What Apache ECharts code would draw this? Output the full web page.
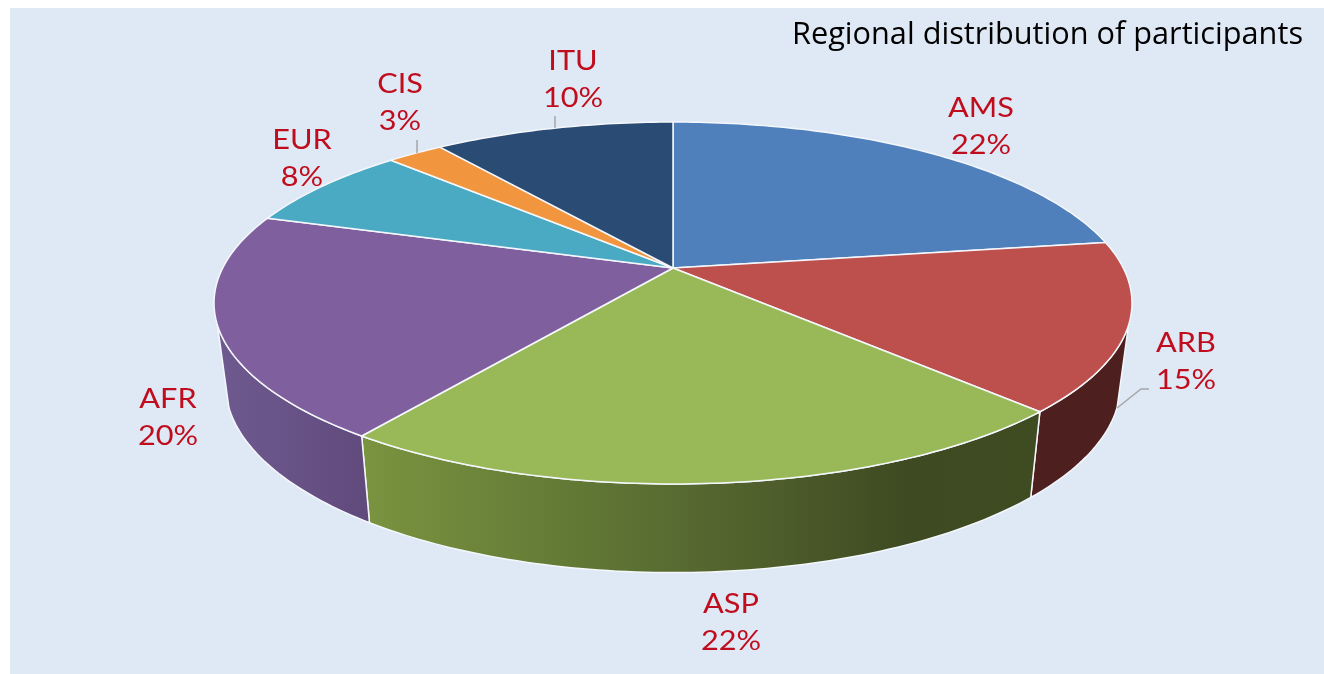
<!DOCTYPE html>
<html>
<head>
<meta charset="utf-8">
<title>Regional distribution of participants</title>
<script src="https://cdn.jsdelivr.net/npm/echarts@6/dist/echarts.min.js"></script>
<style>
  html, body { margin: 0; padding: 0; background: #ffffff; }
  #chart { width: 1324px; height: 674px; }
</style>
</head>
<body>
<div id="chart"></div>
<script>
// Data
const categories = ['AMS', 'ARB', 'ASP', 'AFR', 'EUR', 'CIS', 'ITU'];
// share of the disc each slice really takes up in the drawing
const sliceShares = [22.6, 15, 22.3, 20, 7.5, 2.4, 10.2];
// what the printed labels say (they do not all agree with the slice sizes)
const printedPercents = [22, 15, 22, 20, 8, 3, 10];
const topColors = ['#4f80bc', '#bd4f4d', '#99b958', '#7f5f9e', '#4aaac4', '#f2953f', '#2a4b73'];

// Tilted disc: a circle seen in perspective, hub at (cx, cy)
const cx = 673, cy = 268;
const scaleX = 450.3, scaleY = 174.2, tilt = 0.1934;
// Bottom rim of the disc
const bottomCy = 348, bottomScaleX = 0.975, bottomScaleY = 1.04;
// Only this part of the rim shows a side wall (degrees clockwise from 12 o'clock)
const wallFrom = 108, wallTo = 252;

const wallFills = {
  ARB: '#4d1f1f',
  ASP: new echarts.graphic.LinearGradient(0, 0, 1, 0, [
    { offset: 0, color: '#7a9440' },
    { offset: 0.3, color: '#637a36' },
    { offset: 0.6, color: '#4e5e2c' },
    { offset: 0.8, color: '#3e4a21' },
    { offset: 1, color: '#3f4c22' }
  ]),
  AFR: new echarts.graphic.LinearGradient(0, 0, 1, 0, [
    { offset: 0, color: '#6f5a90' },
    { offset: 1, color: '#604a7c' }
  ])
};

// Label layout: centre x, y of the two text lines
const labelLayout = {
  AMS: { x: 981, y: 127 },
  ARB: { x: 1186, y: 362 },
  ASP: { x: 731, y: 623 },
  AFR: { x: 168, y: 418 },
  EUR: { x: 302, y: 159 },
  CIS: { x: 400, y: 103 },
  ITU: { x: 573, y: 80 }
};
const leaders = {
  ITU: [[555, 116], [555, 128]],
  CIS: [[417, 140], [417, 153]],
  ARB: [[1149, 389], [1141, 389], [1117, 408]]
};

// Running totals turn the shares into start/end angles
const total = sliceShares.reduce((sum, v) => sum + v, 0);
const sliceAngles = [];
let running = 0;
sliceShares.forEach(v => {
  sliceAngles.push([running / total * 360, (running + v) / total * 360]);
  running += v;
});

const rimPoint = (deg, bottom) => {
  const rad = deg * Math.PI / 180;
  const u = Math.sin(rad), v = -Math.cos(rad);
  const w = 1 / (1 - tilt * v);
  const dx = scaleX * u * w, dy = scaleY * v * w;
  return bottom
    ? [cx + dx * bottomScaleX, bottomCy + dy * bottomScaleY]
    : [cx + dx, cy + dy];
};

const rimArc = (from, to, bottom) => {
  const steps = Math.max(2, Math.ceil(Math.abs(to - from)));
  const pts = [];
  for (let i = 0; i <= steps; i++) pts.push(rimPoint(from + (to - from) * i / steps, bottom));
  return pts;
};

const renderWall = (params, api) => {
  const i = api.value(0);
  const [a, b] = sliceAngles[i];
  const from = Math.max(a, wallFrom), to = Math.min(b, wallTo);
  if (from >= to) return null;
  const pts = rimArc(from, to, false).concat(rimArc(to, from, true));
  return {
    type: 'polygon',
    shape: { points: pts },
    style: { fill: wallFills[categories[i]], stroke: '#f4f7fb', lineWidth: 1.5, lineJoin: 'round' }
  };
};

const renderTop = (params, api) => {
  const i = api.value(0);
  const [a, b] = sliceAngles[i];
  const pts = [[cx, cy]].concat(rimArc(a, b, false));
  return {
    type: 'polygon',
    shape: { points: pts },
    style: { fill: topColors[i], stroke: '#f4f7fb', lineWidth: 1.5, lineJoin: 'round' }
  };
};

const renderLabel = (params, api) => {
  const i = api.value(0);
  const name = categories[i];
  const pos = labelLayout[name];
  const children = [{
    type: 'text',
    x: pos.x,
    y: pos.y,
    // the labels in the picture are wider than any installed font at this height
    scaleX: 1.18,
    style: {
      text: name + '\n' + printedPercents[i] + '%',
      fill: '#c00d1e',
      font: '26px Lato',
      lineHeight: 37.5,
      align: 'center',
      verticalAlign: 'middle'
    }
  }];
  if (leaders[name]) {
    children.unshift({
      type: 'polyline',
      shape: { points: leaders[name] },
      style: { fill: null, stroke: '#a6a6a6', lineWidth: 1.5 }
    });
  }
  return { type: 'group', children };
};

const rows = categories.map((name, i) => [i, sliceShares[i]]);

const chart = echarts.init(document.getElementById('chart'), null, { renderer: 'canvas' });
chart.setOption({
  animation: false,
  backgroundColor: '#ffffff',
  title: {
    text: 'Regional distribution of participants',
    right: 16,
    top: 15,
    textStyle: { color: '#000000', fontFamily: 'Open Sans', fontWeight: 'normal', fontSize: 30.7 }
  },
  graphic: [{
    type: 'rect',
    z: -10,
    shape: { x: 10, y: 8, width: 1314, height: 666 },
    style: { fill: '#dfe9f5' }
  }],
  series: [
    { type: 'custom', coordinateSystem: 'none', renderItem: renderWall, data: rows, z: 2 },
    { type: 'custom', coordinateSystem: 'none', renderItem: renderTop, data: rows, z: 3 },
    { type: 'custom', coordinateSystem: 'none', renderItem: renderLabel, data: rows, z: 4 }
  ]
});
</script>
</body>
</html>
